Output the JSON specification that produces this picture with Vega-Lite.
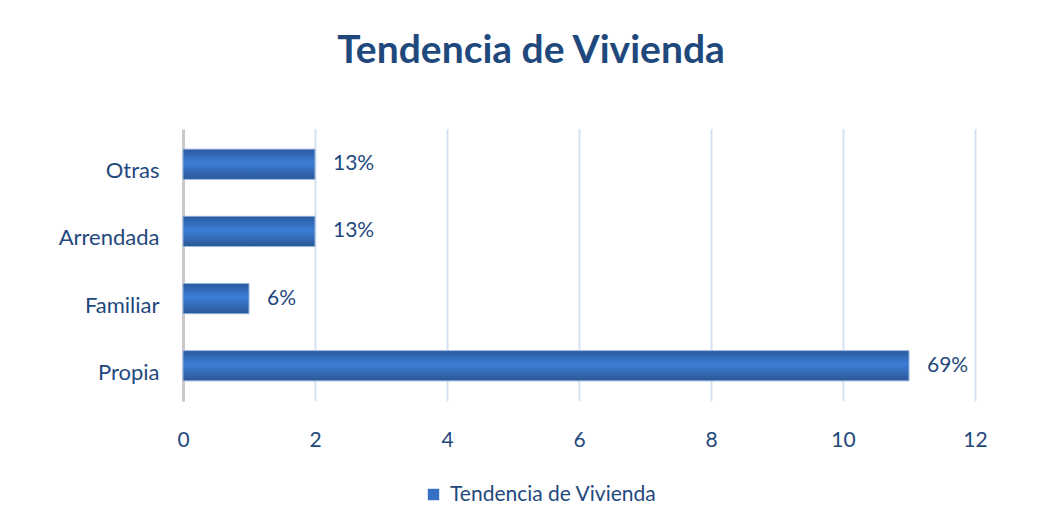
{
  "$schema": "https://vega.github.io/schema/vega-lite/v6.json",
  "width": 792,
  "height": 272,
  "autosize": {"type": "none"},
  "padding": {"left": 183, "top": 129, "right": 83, "bottom": 130},
  "background": "white",
  "config": {
    "view": {"stroke": null},
    "font": "Lato"
  },
  "title": {
    "text": "Tendencia de Vivienda",
    "fontSize": 39,
    "fontWeight": "bold",
    "font": "Lato",
    "color": "#1f497d",
    "anchor": "middle",
    "dx": -48,
    "offset": 58
  },
  "data": {
    "values": [
      {"tipo": "Otras", "valor": 2, "pct": "13%", "serie": "Tendencia de Vivienda"},
      {"tipo": "Arrendada", "valor": 2, "pct": "13%", "serie": "Tendencia de Vivienda"},
      {"tipo": "Familiar", "valor": 1, "pct": "6%", "serie": "Tendencia de Vivienda"},
      {"tipo": "Propia", "valor": 11, "pct": "69%", "serie": "Tendencia de Vivienda"}
    ]
  },
  "encoding": {
    "y": {
      "field": "tipo",
      "type": "nominal",
      "sort": ["Otras", "Arrendada", "Familiar", "Propia"],
      "scale": {"paddingInner": 0.55, "paddingOuter": 0.3},
      "axis": {
        "title": null,
        "ticks": false,
        "domain": true,
        "domainColor": "#c9c9c9",
        "domainWidth": 3,
        "labelFontSize": 22,
        "labelColor": "#1f497d",
        "labelPadding": 24,
        "labelOffset": 7,
        "labelFont": "Lato"
      }
    },
    "x": {
      "field": "valor",
      "type": "quantitative",
      "scale": {"domain": [0, 12]},
      "axis": {
        "title": null,
        "values": [0, 2, 4, 6, 8, 10, 12],
        "ticks": false,
        "domain": false,
        "grid": true,
        "gridColor": "#d6e2f3",
        "gridWidth": 2,
        "labelFlush": false,
        "labelFontSize": 21,
        "labelColor": "#1f497d",
        "labelPadding": 28,
        "labelFont": "Lato"
      }
    }
  },
  "layer": [
    {
      "mark": {"type": "bar"},
      "encoding": {
        "color": {
          "field": "serie",
          "type": "nominal",
          "scale": {"range": ["#3670c4"]},
          "legend": {
            "title": null,
            "orient": "none",
            "legendX": 240,
            "legendY": 355,
            "symbolType": "square",
            "symbolSize": 130,
            "symbolStrokeWidth": 0,
            "labelFontSize": 21,
            "labelLimit": 500,
            "labelColor": "#1f497d",
            "labelFont": "Lato",
            "labelOffset": 6
          }
        }
      }
    },
    {
      "mark": {
        "type": "bar",
        "stroke": "#9ab6de",
        "strokeWidth": 1,
        "fill": {
          "x1": 0, "y1": 0, "x2": 0, "y2": 1,
          "gradient": "linear",
          "stops": [
            {"offset": 0, "color": "#2a5a9e"},
            {"offset": 0.45, "color": "#3c7ed6"},
            {"offset": 1, "color": "#2b5796"}
          ]
        }
      }
    },
    {
      "mark": {
        "type": "text",
        "align": "left",
        "baseline": "middle",
        "dx": 18,
        "fontSize": 21,
        "font": "Lato",
        "color": "#1f497d"
      },
      "encoding": {
        "text": {"field": "pct"}
      }
    }
  ]
}
